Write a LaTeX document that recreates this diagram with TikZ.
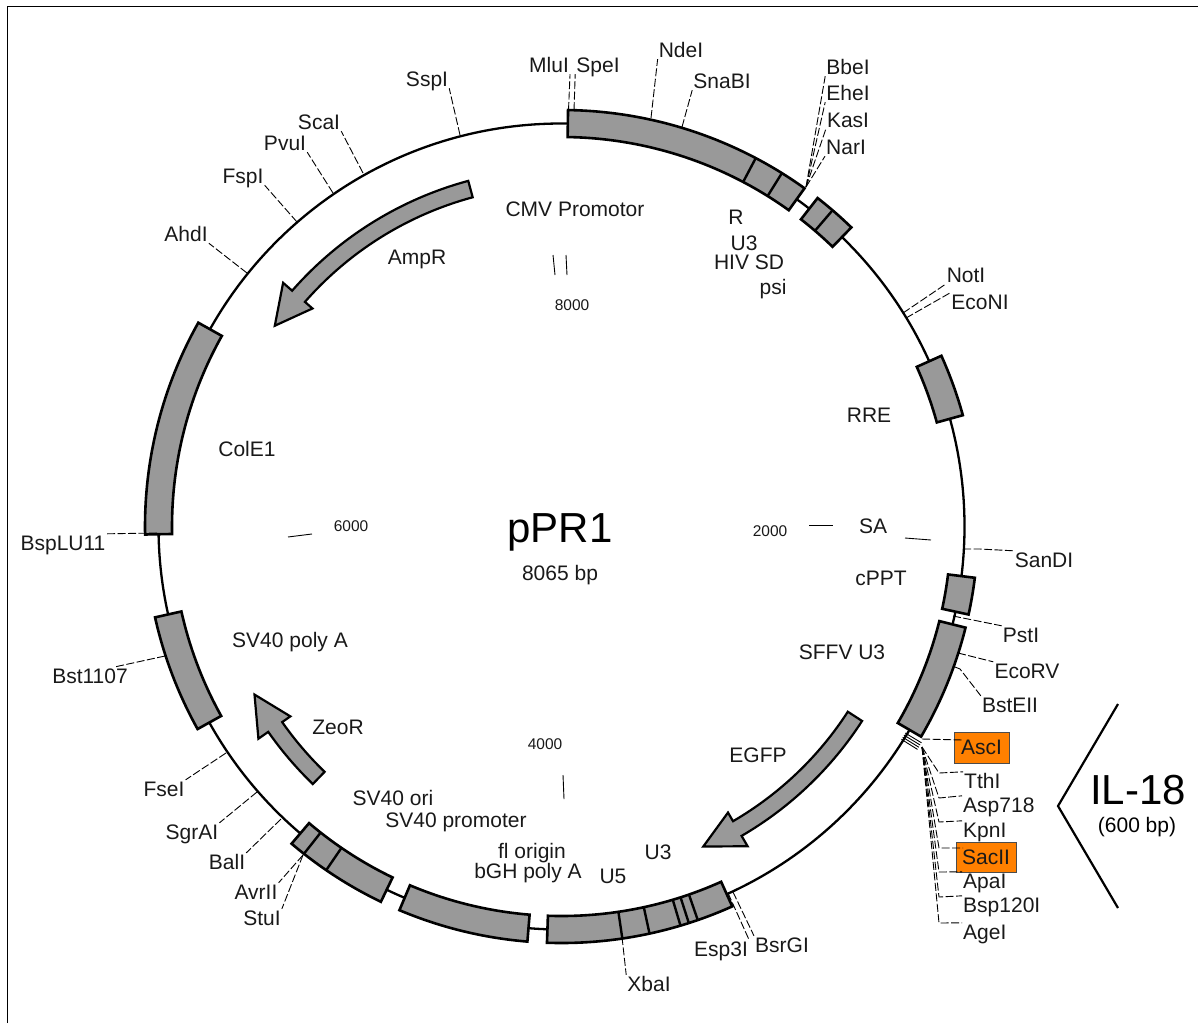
\documentclass[tikz,border=0pt]{standalone}
\usepackage{fontspec}
\setmainfont{Liberation Sans}
\usetikzlibrary{positioning, calc}

\tikzset{
 site/.style={font=\fontsize{21}{23}\selectfont, text=black!90, inner sep=1pt, text height=15pt, text depth=1pt},
 feat/.style={site},
 pick/.style={site, draw=black!70, line width=0.7pt, fill=orange3, inner sep=0pt},
 coord/.style={font=\fontsize{15.5}{17}\selectfont, text=black!90, inner sep=0pt},
 leader/.style={line width=0.9pt, dash pattern=on 8pt off 2.5pt},
 hatch/.style={line width=0.9pt},
 tick/.style={line width=0.9pt},
 backbone/.style={line width=2.3pt},
 part/.style={draw, line width=2.6pt, fill=gray6, line join=miter},
 cut/.style={line width=2.4pt},
 gene/.style={draw, line width=2.2pt, fill=gray6, line join=miter}
}
\definecolor{orange3}{RGB}{255,128,0}
\definecolor{gray6}{RGB}{153,153,153}

% a block on the backbone, a cross line in it, a curved arrow
\newcommand{\plpart}[2]{\draw[part] (#1:416.5) arc[start angle=#1, end angle=#2, radius=416.5] -- (#2:389.5) arc[start angle=#2, end angle=#1, radius=389.5] -- cycle;}
\newcommand{\plcut}[1]{\draw[cut] (#1:416.5) -- (#1:389.5);}
\newcommand{\plgene}[3]{\draw[gene] (#1:358) arc[start angle=#1, end angle=#2, radius=358] -- (#2:370) -- (#3:350) -- (#2:331) -- (#2:341) arc[start angle=#2, end angle=#1, radius=341] -- cycle;}

\begin{document}
\begin{tikzpicture}[x=1pt, y=1pt]
\useasboundingbox (0,0) rectangle (1198,-1023);

\draw[line width=1.5pt] (7.5,-1023) -- (7.5,-6.5) -- (1198,-6.5);

\begin{scope}[shift={(561.5,-526.5)}]
\draw[backbone] (0,0) circle[radius=403];

% blocks, clockwise from the top
\plpart{89.1}{54.3}
\plcut{62.2}
\plcut{58.05}
\plpart{52.06}{45.9}
\plcut{49.4}
\plpart{24.2}{15.5}
\plpart{-7.07}{-12.2}
\plpart{-14.05}{-30.3}
\plpart{-65.8}{-92}
\plcut{-81.6}
\plcut{-77.8}
\plcut{-73.4}
\plcut{-72.2}
\plcut{-70.9}
\plpart{265.3}{247.1}
\plpart{244.3}{229.6}
\plcut{235.6}
\plcut{231.8}
\plpart{209.1}{192.6}
\plpart{181.1}{150.7}

% arrows
\plgene{105.1}{138.8}{145}
\plgene{226}{215}{208.7}
\plgene{-32.9}{-59.8}{-66.1}

% insert end of the backbone
\draw[hatch] (-31:401) -- (-31:420);
\draw[hatch] (-31.35:401) -- (-31.35:420);
\draw[hatch] (-31.7:401) -- (-31.7:420);
\draw[hatch] (-32.05:401) -- (-32.05:420);
\end{scope}

% ticks
\draw[tick] (553,-255) -- (555,-275);
\draw[tick] (566,-255) -- (567,-275);
\draw[tick] (809,-525) -- (833,-525);
\draw[tick] (905,-538) -- (931,-540);
\draw[tick] (288,-537) -- (312,-534);
\draw[tick] (563,-775) -- (564,-799);

\node[coord] (n8000) at (572,-305) {8000};
\node[coord] (n2000) at (770,-531) {2000};
\node[coord] (n6000) at (351,-526) {6000};
\node[coord] (n4000) at (545,-744) {4000};

% features inside the ring
\node[feat] (cmv) at (575,-209) {CMV Promotor};
\node[feat] (r) at (736,-217) {R};
\node[feat] (u3a) at (744,-243) {U3};
\node[feat] (hiv) at (749,-262) {HIV SD};
\node[feat] (psi) at (773,-287) {psi};
\node[feat] (rre) at (869,-415) {RRE};
\node[feat] (sa) at (873,-526) {SA};
\node[feat] (cppt) at (881,-578) {cPPT};
\node[feat] (sffv) at (842,-652) {SFFV U3};
\node[feat] (egfp) at (758,-755) {EGFP};
\node[feat] (u3b) at (658,-852) {U3};
\node[feat] (u5) at (613,-876) {U5};
\node[feat] (fl) at (532,-851) {fl origin};
\node[feat] (bgh) at (528,-871) {bGH poly A};
\node[feat] (svprom) at (456,-820) {SV40 promoter};
\node[feat] (svori) at (393,-798) {SV40 ori};
\node[feat] (zeo) at (338,-727) {ZeoR};
\node[feat] (svpoly) at (290,-640) {SV40 poly A};
\node[feat] (cole) at (247,-449) {ColE1};
\node[feat] (amp) at (417,-257) {AmpR};

\node[inner sep=0pt, font=\fontsize{42}{44}\selectfont] (name) at (560,-532) {pPR1};
\node[feat] (size) at (560,-573) {8065 bp};

% sites
\node[site] (MluI) at (549,-65) {MluI};
\node[site] (SpeI) at (598,-65) {SpeI};
\node[site] (NdeI) at (681,-50) {NdeI};
\node[site] (SnaBI) at (722,-81) {SnaBI};
\node[site] (BbeI) at (848,-67) {BbeI};
\node[site] (EheI) at (848,-93) {EheI};
\node[site] (KasI) at (848,-120) {KasI};
\node[site] (NarI) at (846,-147) {NarI};
\node[site] (NotI) at (966,-275) {NotI};
\node[site] (EcoNI) at (980,-302) {EcoNI};
\node[site] (SanDI) at (1044,-560) {SanDI};
\node[site] (PstI) at (1021,-635) {PstI};
\node[site] (EcoRV) at (1027,-671) {EcoRV};
\node[site] (BstEII) at (1010,-705) {BstEII};
\node[pick, minimum width=55pt, minimum height=31pt] (AscI) at (981.5,-747.5) {AscI};
\node[site, anchor=west] (TthI) at (963,-781) {TthI};
\node[site, anchor=west] (Asp718) at (962,-805) {Asp718};
\node[site, anchor=west] (KpnI) at (962,-830) {KpnI};
\node[pick, minimum width=60pt, minimum height=30pt] (SacII) at (986,-857) {SacII};
\node[site, anchor=west] (ApaI) at (962,-881) {ApaI};
\node[site, anchor=west] (Bsp120I) at (962,-905) {Bsp120I};
\node[site, anchor=west] (AgeI) at (962,-932) {AgeI};
\node[site] (BsrGI) at (782,-945) {BsrGI};
\node[site] (Esp3I) at (721,-949) {Esp3I};
\node[site] (XbaI) at (649,-984) {XbaI};
\node[site] (StuI) at (262,-918) {StuI};
\node[site] (AvrII) at (256,-892) {AvrII};
\node[site] (BalI) at (227,-862) {BalI};
\node[site] (SgrAI) at (192,-832) {SgrAI};
\node[site] (FseI) at (164,-789) {FseI};
\node[site] (Bst1107) at (90,-676) {Bst1107};
\node[site] (BspLU11) at (63,-543) {BspLU11};
\node[site] (AhdI) at (186,-234) {AhdI};
\node[site] (FspI) at (243,-176) {FspI};
\node[site] (PvuI) at (285,-143) {PvuI};
\node[site] (ScaI) at (319,-122) {ScaI};
\node[site] (SspI) at (427,-79) {SspI};

% points on the backbone
\coordinate (pMlu) at (568.5,-110);
\coordinate (pSpe) at (574,-110);
\coordinate (pNde) at (651,-118);
\coordinate (pSna) at (682,-127);
\coordinate (pBbe) at (806,-187);
\coordinate (pNot) at (903,-313);
\coordinate (pEcoN) at (906,-318);
\coordinate (pSan) at (963,-549);
\coordinate (pPst) at (953,-616);
\coordinate (pEcoR) at (958,-653);
\coordinate (pBstE) at (955,-667);
\coordinate (pAsc) at (922,-739);
\coordinate (pIns) at (922,-747);
\coordinate (pBsr) at (733,-892);
\coordinate (pEsp) at (728,-893);
\coordinate (pXba) at (622,-937);
\coordinate (pAvr) at (303,-855);
\coordinate (pBal) at (281,-819);
\coordinate (pSgr) at (257,-792);
\coordinate (pFse) at (226,-753);
\coordinate (pBst) at (165,-656);
\coordinate (pBsp) at (157,-533);
\coordinate (pAhd) at (247,-273);
\coordinate (pFsp) at (297,-222);
\coordinate (pPvu) at (333,-193);
\coordinate (pSca) at (363,-173);
\coordinate (pSsp) at (460,-135);
\coordinate (bend) at (939,-773);

\draw[leader] (pMlu) -- (MluI.south east);
\draw[leader] (pSpe) -- (SpeI.south west);
\draw[leader] (pNde) -- (NdeI.south west);
\draw[leader] (pSna) -- (SnaBI.south west);
\draw[leader] (pBbe) -- (BbeI.south west);
\draw[leader] (pBbe) -- (EheI.south west);
\draw[leader] (pBbe) -- (KasI.south west);
\draw[leader] (pBbe) -- (NarI.south west);
\draw[leader] (pNot) -- (NotI.south west);
\draw[leader] (pEcoN) -- (EcoNI.north west);
\draw[leader] (pSan) -- (980,-549) -- (SanDI.north west);
\draw[leader] (pPst) -- (PstI.north west);
\draw[leader] (pEcoR) -- (EcoRV.north west);
\draw[leader] (pBstE) -- (960,-669) -- (BstEII.north west);
\draw[leader] (pAsc) -- (963,-740);
\draw[leader] (pIns) -- (bend) -- (TthI.north west);
\draw[leader] (pIns) -- (bend |- 0,-798) -- (Asp718.north west);
\draw[leader] (pIns) -- (bend |- 0,-822) -- (KpnI.north west);
\draw[leader] (pIns) -- (bend |- 0,-848) -- (963,-848);
\draw[leader] (pIns) -- (bend |- 0,-872) -- (ApaI.north west);
\draw[leader] (pIns) -- (bend |- 0,-897) -- (Bsp120I.north west);
\draw[leader] (pIns) -- (bend |- 0,-923) -- (AgeI.north west);
\draw[leader] (pBsr) -- (BsrGI.north west);
\draw[leader] (pEsp) -- (Esp3I.north east);
\draw[leader] (pXba) -- (XbaI.north west);
\draw[leader] (pAvr) -- (AvrII.north east);
\draw[leader] (pAvr) -- (StuI.north east);
\draw[leader] (pBal) -- (BalI.north east);
\draw[leader] (pSgr) -- (SgrAI.north east);
\draw[leader] (pFse) -- (FseI.north east);
\draw[leader] (pBst) -- (Bst1107.20);
\draw[leader] (pBsp) -- (BspLU11.north east);
\draw[leader] (pAhd) -- (AhdI.south east);
\draw[leader] (pFsp) -- (FspI.south east);
\draw[leader] (pPvu) -- (PvuI.south east);
\draw[leader] (pSca) -- (ScaI.south east);
\draw[leader] (pSsp) -- (SspI.south east);

% insert
\draw[line width=2.2pt] (1118,-704) -- (1058,-806) -- (1118,-908);
\node[inner sep=0pt, font=\fontsize{42}{44}\selectfont] (il) at (1138,-790) {IL-18};
\node[inner sep=0pt, font=\fontsize{21}{23}\selectfont] (bp) at (1137,-827) {(600 bp)};
\end{tikzpicture}
\end{document}
